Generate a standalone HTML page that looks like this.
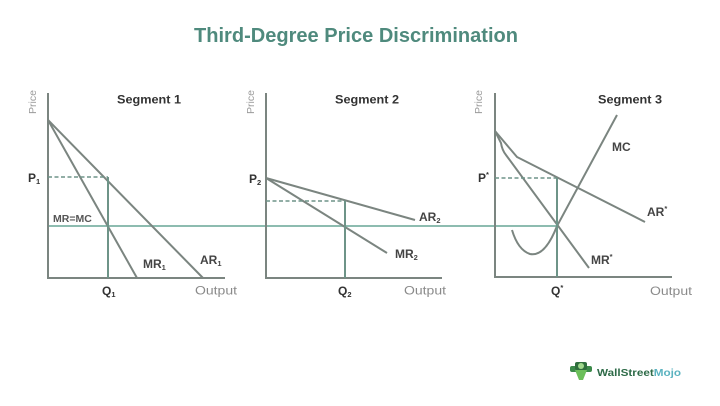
<!DOCTYPE html>
<html><head><meta charset="utf-8"><style>
html,body{margin:0;padding:0;background:#fff;}
svg{display:block;}
text{font-family:"Liberation Sans",sans-serif;}
</style></head><body>
<svg width="720" height="406" viewBox="0 0 720 406" xmlns="http://www.w3.org/2000/svg">
<rect width="720" height="406" fill="#fff"/>
<text x="356" y="42" text-anchor="middle" font-size="20" font-weight="bold" fill="#4f8a7d" textLength="324" lengthAdjust="spacingAndGlyphs">Third-Degree Price Discrimination</text>

<!-- MR=MC horizontal -->
<line x1="48" y1="226" x2="557" y2="226" stroke="#8dbcb0" stroke-width="2"/>

<!-- Segment 1 -->
<g stroke="#7b8580" stroke-width="2" fill="none">
<polyline points="48,93 48,278 225,278"/>
<line x1="48" y1="120" x2="203" y2="278"/>
<line x1="48" y1="120" x2="137" y2="278"/>
</g>
<line x1="48" y1="177" x2="108" y2="177" stroke="#6e9488" stroke-width="1.6" stroke-dasharray="4,2.5"/>
<line x1="108" y1="177" x2="108" y2="278" stroke="#6e9488" stroke-width="2"/>
<text x="36" y="102" font-size="10.5" fill="#9a9a9a" transform="rotate(-90 36 102)" text-anchor="middle">Price</text>
<text x="149" y="103.5" font-size="12" font-weight="bold" fill="#333" text-anchor="middle" textLength="64" lengthAdjust="spacingAndGlyphs">Segment 1</text>
<text x="28" y="182" font-size="12" font-weight="bold" fill="#333">P<tspan font-size="7.5" dy="2">1</tspan></text>
<text x="53" y="222" font-size="10.5" font-weight="bold" fill="#555">MR=MC</text>
<text x="143" y="268" font-size="12" font-weight="bold" fill="#444">MR<tspan font-size="7.5" dy="2">1</tspan></text>
<text x="200" y="264" font-size="12" font-weight="bold" fill="#444">AR<tspan font-size="7.5" dy="2">1</tspan></text>
<text x="102" y="295" font-size="12" font-weight="bold" fill="#333">Q<tspan font-size="7.5" dy="2">1</tspan></text>
<text x="195" y="294.5" font-size="12" fill="#8a8a8a" textLength="42" lengthAdjust="spacingAndGlyphs">Output</text>

<!-- Segment 2 -->
<g stroke="#7b8580" stroke-width="2" fill="none">
<polyline points="266,93 266,278 442,278"/>
<line x1="266" y1="178" x2="415" y2="220"/>
<line x1="266" y1="178" x2="387" y2="253"/>
</g>
<line x1="266" y1="201" x2="345" y2="201" stroke="#6e9488" stroke-width="1.6" stroke-dasharray="4,2.5"/>
<line x1="345" y1="201" x2="345" y2="278" stroke="#6e9488" stroke-width="2"/>
<text x="254" y="102" font-size="10.5" fill="#9a9a9a" transform="rotate(-90 254 102)" text-anchor="middle">Price</text>
<text x="367" y="103.5" font-size="12" font-weight="bold" fill="#333" text-anchor="middle" textLength="64" lengthAdjust="spacingAndGlyphs">Segment 2</text>
<text x="249" y="183" font-size="12" font-weight="bold" fill="#333">P<tspan font-size="7.5" dy="2">2</tspan></text>
<text x="419" y="221" font-size="12" font-weight="bold" fill="#444">AR<tspan font-size="7.5" dy="2">2</tspan></text>
<text x="395" y="258" font-size="12" font-weight="bold" fill="#444">MR<tspan font-size="7.5" dy="2">2</tspan></text>
<text x="338" y="295" font-size="12" font-weight="bold" fill="#333">Q<tspan font-size="7.5" dy="2">2</tspan></text>
<text x="404" y="294.5" font-size="12" fill="#8a8a8a" textLength="42" lengthAdjust="spacingAndGlyphs">Output</text>

<!-- Segment 3 -->
<g stroke="#7b8580" stroke-width="2" fill="none">
<polyline points="495,93 495,277 672,277"/>
<polyline points="495,131 517,157 645,222"/>
<path d="M495,131 L501,143 Q502,150 506,155 L589,268"/>
<path d="M512,230 Q518,250 530,254 Q545,257 557,226 L617,115"/>
</g>
<line x1="495" y1="178" x2="557" y2="178" stroke="#6e9488" stroke-width="1.6" stroke-dasharray="4,2.5"/>
<line x1="557" y1="178" x2="557" y2="277" stroke="#6e9488" stroke-width="2"/>
<text x="482" y="102" font-size="10.5" fill="#9a9a9a" transform="rotate(-90 482 102)" text-anchor="middle">Price</text>
<text x="630" y="103.5" font-size="12" font-weight="bold" fill="#333" text-anchor="middle" textLength="64" lengthAdjust="spacingAndGlyphs">Segment 3</text>
<text x="478" y="182" font-size="12" font-weight="bold" fill="#333">P<tspan font-size="7.5" dy="-5">*</tspan></text>
<text x="612" y="151" font-size="12" font-weight="bold" fill="#444">MC</text>
<text x="647" y="216" font-size="12" font-weight="bold" fill="#444">AR<tspan font-size="7.5" dy="-5">*</tspan></text>
<text x="591" y="264" font-size="12" font-weight="bold" fill="#444">MR<tspan font-size="7.5" dy="-5">*</tspan></text>
<text x="551" y="295" font-size="12" font-weight="bold" fill="#333">Q<tspan font-size="7.5" dy="-5">*</tspan></text>
<text x="650" y="295" font-size="12" fill="#8a8a8a" textLength="42" lengthAdjust="spacingAndGlyphs">Output</text>

<!-- Logo -->
<g>
<rect x="570" y="366" width="22" height="6" rx="2" fill="#3c8a4a"/>
<rect x="575" y="362" width="12" height="8" rx="2" fill="#2f6e3d"/>
<path d="M575,370 L587,370 L583,380 L579,380 Z" fill="#6bbf5a"/>
<circle cx="581" cy="366" r="3" fill="#9fd88c"/>
</g>
<text x="597" y="376" font-size="10.5" font-weight="bold" fill="#2e6b48" textLength="84" lengthAdjust="spacingAndGlyphs">WallStreet<tspan fill="#5bb3c0">Mojo</tspan></text>
</svg>
</body></html>
